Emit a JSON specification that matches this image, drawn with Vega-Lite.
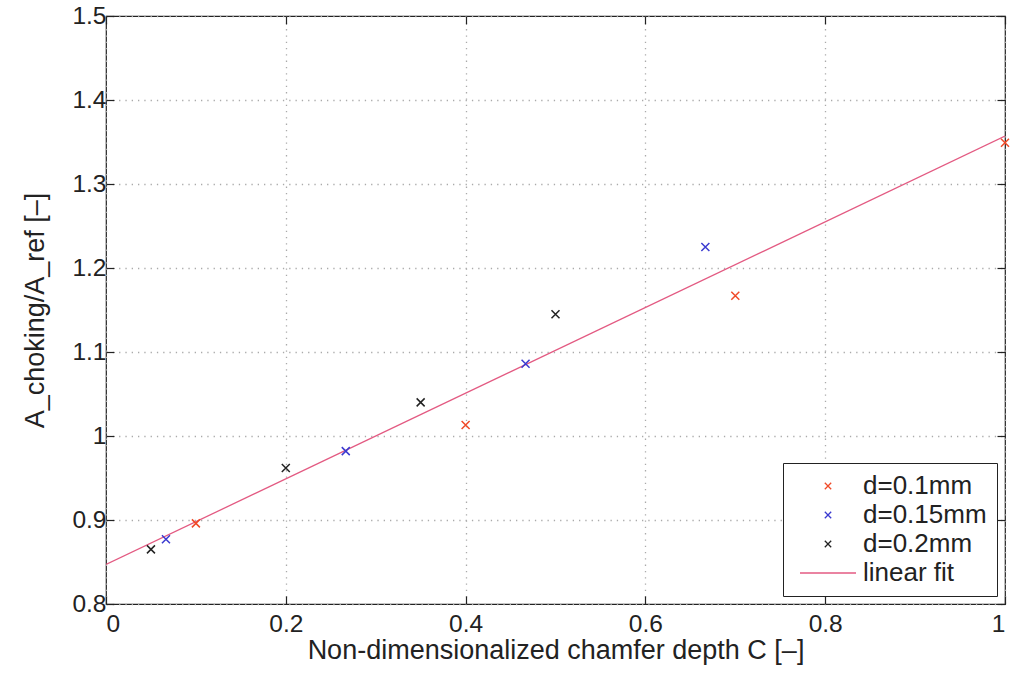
{
  "$schema": "https://vega.github.io/schema/vega-lite/v6.json",
  "autosize": "none",
  "width": 899,
  "height": 588,
  "padding": {"left": 106, "top": 16, "right": 6, "bottom": 75},
  "background": "white",
  "config": {
    "font": "Liberation Sans",
    "view": {"stroke": "#222", "strokeWidth": 1.2},
    "axis": {
      "domain": false,
      "tickColor": "#222",
      "tickSize": -8,
      "tickWidth": 1.2,
      "labelFont": "Liberation Sans",
      "labelFontSize": 24.5,
      "labelColor": "#222",
      "titleFont": "Liberation Sans",
      "titleFontSize": 27,
      "titleFontWeight": "normal",
      "titleColor": "#222",
      "gridColor": "#aaa",
      "gridDash": [1.3, 5],
      "gridWidth": 1.3,
      "gridOpacity": 1
    },
    "legend": {
      "title": null,
      "fillColor": "white", "strokeColor": "#222", "padding": 10,
      "labelFont": "Liberation Sans", "labelFontSize": 26, "labelColor": "#222",
      "symbolOffset": 22, "labelOffset": 22, "rowPadding": 3, "symbolSize": 64, "symbolStrokeWidth": 1.3,
      "symbolFillColor": "transparent"
    }
  },
  "datasets": {
    "pts": [
      {"C": 0.1, "A": 0.896, "series": "d=0.1mm"},
      {"C": 0.4, "A": 1.013, "series": "d=0.1mm"},
      {"C": 0.7, "A": 1.167, "series": "d=0.1mm"},
      {"C": 1.0, "A": 1.349, "series": "d=0.1mm"},
      {"C": 0.0667, "A": 0.877, "series": "d=0.15mm"},
      {"C": 0.2667, "A": 0.982, "series": "d=0.15mm"},
      {"C": 0.4667, "A": 1.086, "series": "d=0.15mm"},
      {"C": 0.6667, "A": 1.225, "series": "d=0.15mm"},
      {"C": 0.05, "A": 0.865, "series": "d=0.2mm"},
      {"C": 0.2, "A": 0.962, "series": "d=0.2mm"},
      {"C": 0.35, "A": 1.040, "series": "d=0.2mm"},
      {"C": 0.5, "A": 1.145, "series": "d=0.2mm"}
    ],
    "fit": [
      {"C": 0, "A": 0.847, "series": "linear fit"},
      {"C": 1, "A": 1.357, "series": "linear fit"}
    ]
  },
  "layer": [
    {
      "data": {"name": "fit"},
      "mark": {"type": "line", "strokeWidth": 1.3, "clip": true},
      "encoding": {
        "x": {"field": "C", "type": "quantitative", "scale": {"domain": [0, 1], "nice": false},
              "axis": {"orient": "top", "labels": false, "title": null, "grid": false, "tickCount": 5}},
        "y": {"field": "A", "type": "quantitative", "scale": {"domain": [0.8, 1.5], "nice": false, "zero": false},
              "axis": {"orient": "right", "labels": false, "title": null, "grid": false, "tickCount": 7}},
        "color": {"field": "series", "type": "nominal",
                  "scale": {"domain": ["d=0.1mm", "d=0.15mm", "d=0.2mm", "linear fit"],
                            "range": ["#f04a28", "#3a3ad0", "#222222", "#e35a82"]},
                  "legend": {"orient": "bottom-right", "offset": 8}}
      }
    },
    {
      "data": {"name": "pts"},
      "mark": {"type": "point", "filled": false, "strokeWidth": 1.5, "size": 100, "opacity": 1},
      "encoding": {
        "x": {"field": "C", "type": "quantitative", "scale": {"domain": [0, 1], "nice": false},
              "axis": {"orient": "bottom", "title": "Non-dimensionalized chamfer depth C [–]", "grid": true,
                       "tickCount": 5, "labelPadding": 16, "titlePadding": 2,
                       "labelExpr": "datum.value == 0 || datum.value == 1 ? format(datum.value, 'd') : format(datum.value, '.1f')"}},
        "y": {"field": "A", "type": "quantitative", "scale": {"domain": [0.8, 1.5], "nice": false, "zero": false},
              "axis": {"orient": "left", "title": "A_choking/A_ref [–]", "grid": true, "tickCount": 7,
                       "labelPadding": 8, "titlePadding": 22,
                       "labelExpr": "datum.value == 1 ? '1' : format(datum.value, '.1f')"}},
        "color": {"field": "series", "type": "nominal",
                  "scale": {"domain": ["d=0.1mm", "d=0.15mm", "d=0.2mm", "linear fit"],
                            "range": ["#f04a28", "#3a3ad0", "#222222", "#e35a82"]},
                  "legend": {"orient": "bottom-right", "offset": 8}},
        "shape": {"field": "series", "type": "nominal",
                  "scale": {"domain": ["d=0.1mm", "d=0.15mm", "d=0.2mm", "linear fit"],
                            "range": ["M-0.8,-0.8L0.8,0.8M-0.8,0.8L0.8,-0.8", "M-0.8,-0.8L0.8,0.8M-0.8,0.8L0.8,-0.8", "M-0.8,-0.8L0.8,0.8M-0.8,0.8L0.8,-0.8", "M-7,0L7,0"]},
                  "legend": {"orient": "bottom-right", "offset": 8}}
      }
    }
  ],
  "resolve": {"axis": {"x": "independent", "y": "independent"}}
}
